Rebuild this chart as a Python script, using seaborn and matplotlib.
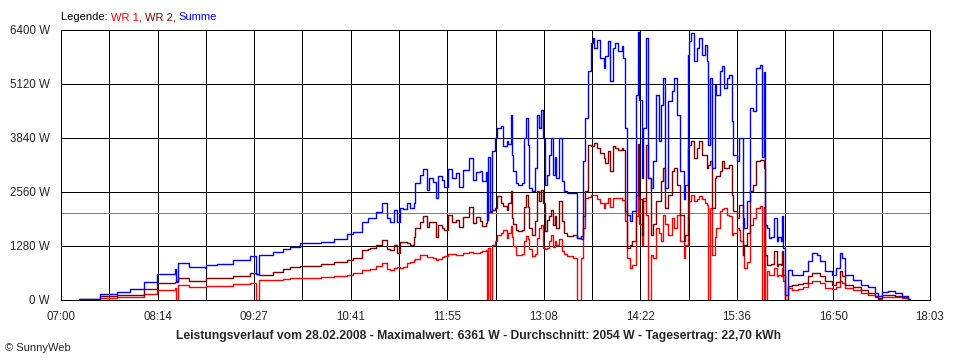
"""
    Leistungsverlauf SunnyWeb 28.02.2008
    WR 1, WR 2 und Summe als Stufenlinien
"""

import matplotlib
matplotlib.use("Agg")
import matplotlib.pyplot as plt
import seaborn as sns
import pandas as pd

# Messzeitpunkte und Leistung in W
zeit = [
    "07:14", "07:19", "07:30", "07:43", "07:53", "08:03", "08:13", "08:27", "08:28", "08:29",
    "08:38", "08:50", "08:51", "08:59", "09:11", "09:24", "09:29", "09:31", "09:42", "09:49",
    "09:55", "10:02", "10:18", "10:28", "10:38", "10:43", "10:50", "10:54", "10:56", "11:00",
    "11:05", "11:09", "11:11", "11:14", "11:16", "11:19", "11:21", "11:24", "11:26", "11:29",
    "11:30", "11:34", "11:36", "11:39", "11:41", "11:44", "11:46", "11:48", "11:51", "11:52",
    "11:55", "11:58", "12:01", "12:04", "12:07", "12:11", "12:14", "12:17", "12:20", "12:21",
    "12:24", "12:25", "12:26", "12:27", "12:29", "12:31", "12:33", "12:36", "12:37", "12:40",
    "12:41", "12:43", "12:44", "12:45", "12:47", "12:49", "12:52", "12:53", "12:55", "12:56",
    "12:57", "12:59", "13:02", "13:03", "13:05", "13:06", "13:08", "13:09", "13:11", "13:12",
    "13:14", "13:15", "13:17", "13:18", "13:20", "13:22", "13:24", "13:26", "13:31", "13:34",
    "13:37", "13:38", "13:40", "13:42", "13:44", "13:46", "13:47", "13:49", "13:51", "13:54",
    "13:55", "13:57", "13:59", "14:01", "14:03", "14:05", "14:08", "14:09", "14:10", "14:12",
    "14:14", "14:16", "14:19", "14:20", "14:21", "14:23", "14:24", "14:26", "14:28", "14:30",
    "14:32", "14:34", "14:36", "14:38", "14:39", "14:41", "14:43", "14:46", "14:48", "14:50",
    "14:52", "14:55", "14:56", "14:58", "14:59", "15:01", "15:03", "15:05", "15:07", "15:09",
    "15:11", "15:13", "15:14", "15:15", "15:17", "15:19", "15:20", "15:23", "15:24", "15:26",
    "15:28", "15:30", "15:32", "15:33", "15:36", "15:37", "15:38", "15:40", "15:41", "15:43",
    "15:46", "15:48", "15:50", "15:53", "15:55", "15:56", "15:57", "15:59", "16:00", "16:02",
    "16:04", "16:06", "16:07", "16:09", "16:10", "16:11", "16:12", "16:15", "16:18", "16:22",
    "16:26", "16:30", "16:33", "16:37", "16:39", "16:43", "16:48", "16:51", "16:54", "16:56",
    "16:58", "17:04", "17:10", "17:16", "17:21", "17:23", "17:26", "17:31", "17:36", "17:42",
    "17:46", "17:48",
]

wr1 = [
    5, 5, 55, 60, 70, 135, 237, 277, 0, 348,
    316, 320, 332, 340, 379, 411, 0, 465, 480, 490,
    510, 529, 537, 560, 600, 640, 711, 720, 727, 800,
    869, 730, 711, 760, 780, 750, 780, 880, 908, 950,
    980, 1067, 1060, 1030, 1027, 990, 948, 980, 1020, 1050,
    1090, 1080, 1067, 1070, 1110, 1145, 1120, 1106, 1138, 1150,
    1185, 0, 1225, 0, 1311, 1400, 1548, 1600, 1667, 1469,
    1600, 1746, 1500, 1272, 1074, 1074, 1100, 1390, 1509, 1450,
    1200, 1035, 1100, 1469, 1700, 1785, 1232, 1200, 1232, 1400,
    1548, 1250, 1400, 1300, 1450, 1153, 1100, 1035, 1000, 0,
    1000, 1707, 2417, 2450, 2497, 2480, 2497, 2400, 2299, 2180,
    2300, 2417, 2200, 2417, 2420, 2420, 2378, 2378, 1865, 995,
    758, 837, 2000, 2500, 1800, 1311, 2417, 2023, 0, 1074,
    995, 1707, 1600, 1390, 2023, 1800, 1548, 1943, 1700, 2023,
    1390, 995, 1311, 2000, 2339, 2497, 2339, 2400, 2457, 2400,
    2300, 2259, 0, 2180, 1074, 1500, 1707, 2102, 2150, 2180,
    2023, 2000, 1548, 1600, 1707, 1650, 1400, 1074, 758, 900,
    1785, 1943, 2180, 2220, 0, 2200, 0, 679, 600, 600,
    758, 561, 600, 580, 758, 442, 0, 284, 245, 250,
    300, 403, 440, 442, 400, 284, 270, 300, 442, 403,
    284, 230, 166, 110, 63, 20, 79, 79, 60, 39,
    0, 0,
]

wr2 = [
    15, 15, 90, 120, 120, 250, 395, 435, 435, 514,
    458, 458, 514, 514, 560, 632, 610, 600, 660, 727,
    780, 806, 850, 900, 948, 1000, 1185, 1210, 1225, 1300,
    1422, 1200, 1185, 1304, 1106, 1382, 1382, 1350, 1304, 1501,
    1700, 1856, 1991, 1738, 1856, 1856, 1501, 1778, 1700, 1659,
    2015, 1856, 1900, 1738, 1975, 2212, 1817, 1975, 1865, 1746,
    1817, 1904, 2093, 2093, 2141, 2180, 2458, 2300, 2220, 2141,
    2300, 2591, 1943, 1800, 1667, 1627, 1650, 2200, 2497, 2200,
    1700, 1548, 1865, 2576, 2339, 2615, 2300, 1627, 1904, 2000,
    2141, 1785, 2000, 1700, 2339, 1865, 1600, 1510, 1548, 1469,
    1510, 2000, 2576, 3682, 3650, 3643, 3722, 3600, 3485, 3367,
    3249, 3525, 3050, 3643, 3600, 3564, 3600, 3564, 2102, 1232,
    1311, 1400, 2500, 3700, 2400, 1548, 2339, 3682, 2891, 1548,
    1800, 2339, 2339, 2813, 3128, 2180, 2500, 3050, 3128, 2733,
    2023, 1390, 1548, 3600, 3682, 3761, 3367, 3603, 3761, 3445,
    3445, 3128, 3200, 3287, 2180, 2891, 2950, 3050, 3287, 3128,
    3128, 3200, 2497, 2100, 1943, 2259, 2259, 1074, 1311, 1600,
    2576, 2733, 3287, 3327, 3327, 3128, 1074, 837, 837, 850,
    1153, 798, 850, 837, 1153, 600, 0, 340, 363, 370,
    400, 561, 640, 630, 560, 442, 363, 420, 679, 561,
    363, 300, 245, 160, 95, 50, 118, 118, 100, 79,
    0, 0,
]

summe = [
    20, 25, 140, 195, 250, 420, 610, 730, 440, 885,
    775, 750, 830, 853, 948, 1043, 610, 1060, 1145, 1200,
    1263, 1358, 1382, 1438, 1556, 1620, 1856, 1935, 1952, 2093,
    2290, 1935, 1856, 2133, 1850, 2172, 2150, 2300, 2172, 2290,
    2765, 2963, 3096, 2607, 2883, 2805, 2410, 2939, 2844, 2686,
    3096, 2883, 3002, 2686, 3081, 3358, 2844, 3041, 3050, 2813,
    3041, 1904, 3397, 2100, 3524, 3840, 4076, 4116, 3643, 3761,
    3700, 4392, 3445, 3050, 2773, 2733, 2773, 3840, 4313, 3682,
    2654, 2576, 3128, 4392, 4076, 4510, 3840, 2733, 2970, 3445,
    3840, 2970, 3400, 2891, 3840, 2813, 2576, 2536, 2536, 1469,
    1450, 3287, 4313, 5420, 6091, 6210, 5972, 6170, 5735, 5498,
    5775, 6131, 5183, 5972, 6091, 5894, 6012, 5735, 4076, 2023,
    1865, 2102, 4866, 6361, 4740, 2891, 4076, 6210, 2900, 2654,
    3287, 4866, 3761, 4629, 5261, 2654, 4708, 4946, 5261, 4392,
    3050, 2400, 2733, 5814, 6131, 6328, 5657, 5972, 6210, 5814,
    6052, 5657, 3682, 5261, 3128, 5103, 4866, 5420, 5538, 5024,
    5261, 5340, 4234, 3445, 3287, 3840, 3840, 1943, 1707, 2339,
    4550, 4471, 5498, 5577, 3400, 5400, 1785, 1707, 1469, 1500,
    1943, 1390, 1500, 1390, 1983, 1232, 126, 700, 600, 600,
    679, 916, 1114, 1074, 916, 679, 600, 758, 1114, 995,
    600, 482, 363, 300, 174, 95, 198, 213, 174, 95,
    16, 0,
]

achsen_zeiten = ["07:00", "08:14", "09:27", "10:41", "11:55", "13:08",
                 "14:22", "15:36", "16:50", "18:03"]
leistung_ticks = [0, 1280, 2560, 3840, 5120, 6400]
durchschnitt = 2054

farben = {'WR 1': '#ff0000', 'WR 2': '#800000', 'Summe': '#0000ff'}
LW = 0.72  # 1 Pixel bei 100 dpi


def in_minuten(s):
    h, m = s.split(':')
    return int(h) * 60 + int(m)


sns.set_style("white")
plt.rcParams['font.family'] = ['Liberation Sans', 'DejaVu Sans']

df = pd.DataFrame({'minute': [in_minuten(t) for t in zeit],
                   'WR 1': wr1, 'WR 2': wr2, 'Summe': summe})
df_long = df.melt(id_vars='minute', var_name='serie', value_name='leistung')

fig = plt.figure(figsize=(9.6, 3.6), dpi=100)
ax = fig.add_axes([61 / 960, 60 / 360, 869 / 960, 270 / 360])

t0 = in_minuten(achsen_zeiten[0])
t1 = in_minuten(achsen_zeiten[-1])
n = len(achsen_zeiten) - 1
major = [t0 + i * (t1 - t0) / n for i in range(n + 1)]
minor = [t0 + (i + 0.5) * (t1 - t0) / n for i in range(n)]

# Durchschnittslinie
ax.axhline(durchschnitt, color='#808080', lw=LW, zorder=1, antialiased=False)

sns.lineplot(data=df_long, x='minute', y='leistung', hue='serie',
             hue_order=['WR 1', 'WR 2', 'Summe'], palette=farben,
             estimator=None, drawstyle='steps-post', lw=1.0,
             legend=False, ax=ax, zorder=3)

ax.set_xlim(t0, t1)
ax.set_ylim(0, 6400)
ax.set_xticks(major)
ax.set_xticks(minor, minor=True)
ax.set_xticklabels(achsen_zeiten)
ax.set_yticks(leistung_ticks)
ax.set_yticklabels([f"{v} W" for v in leistung_ticks])
ax.set_xlabel('')
ax.set_ylabel('')

ax.grid(True, which='both', axis='x', color='black', lw=LW, zorder=0, antialiased=False)
ax.grid(True, which='major', axis='y', color='black', lw=LW, zorder=0, antialiased=False)
ax.set_axisbelow(True)
for s in ax.spines.values():
    s.set_color('black')
    s.set_linewidth(LW)

ax.tick_params(axis='x', which='both', direction='out', length=4, width=LW,
               color='black', labelsize=8.3, pad=4)
ax.tick_params(axis='y', length=0, labelsize=8.3, pad=8)

# Legende als farbiger Text oben links
fig.canvas.draw()
renderer = fig.canvas.get_renderer()
x = 61 / 960
for teil, farbe in [("Legende: ", 'black'), ("WR 1, ", farben['WR 1']),
                    ("WR 2, ", farben['WR 2']), ("Summe", farben['Summe'])]:
    t = fig.text(x, 1 - 17 / 360, teil, color=farbe, fontsize=8, va='center')
    bb = t.get_window_extent(renderer=renderer)
    x += bb.width / fig.bbox.width

fig.text(479 / 960, 1 - 336 / 360,
         "Leistungsverlauf vom 28.02.2008 - Maximalwert: 6361 W - Durchschnitt: 2054 W - Tagesertrag: 22,70 kWh",
         ha='center', va='center', fontsize=8.7, fontweight='bold')
fig.text(5 / 960, 1 - 348 / 360, "© SunnyWeb", ha='left', va='center', fontsize=8)

fig.savefig("out.png", dpi=100, facecolor='white')
plt.close(fig)
